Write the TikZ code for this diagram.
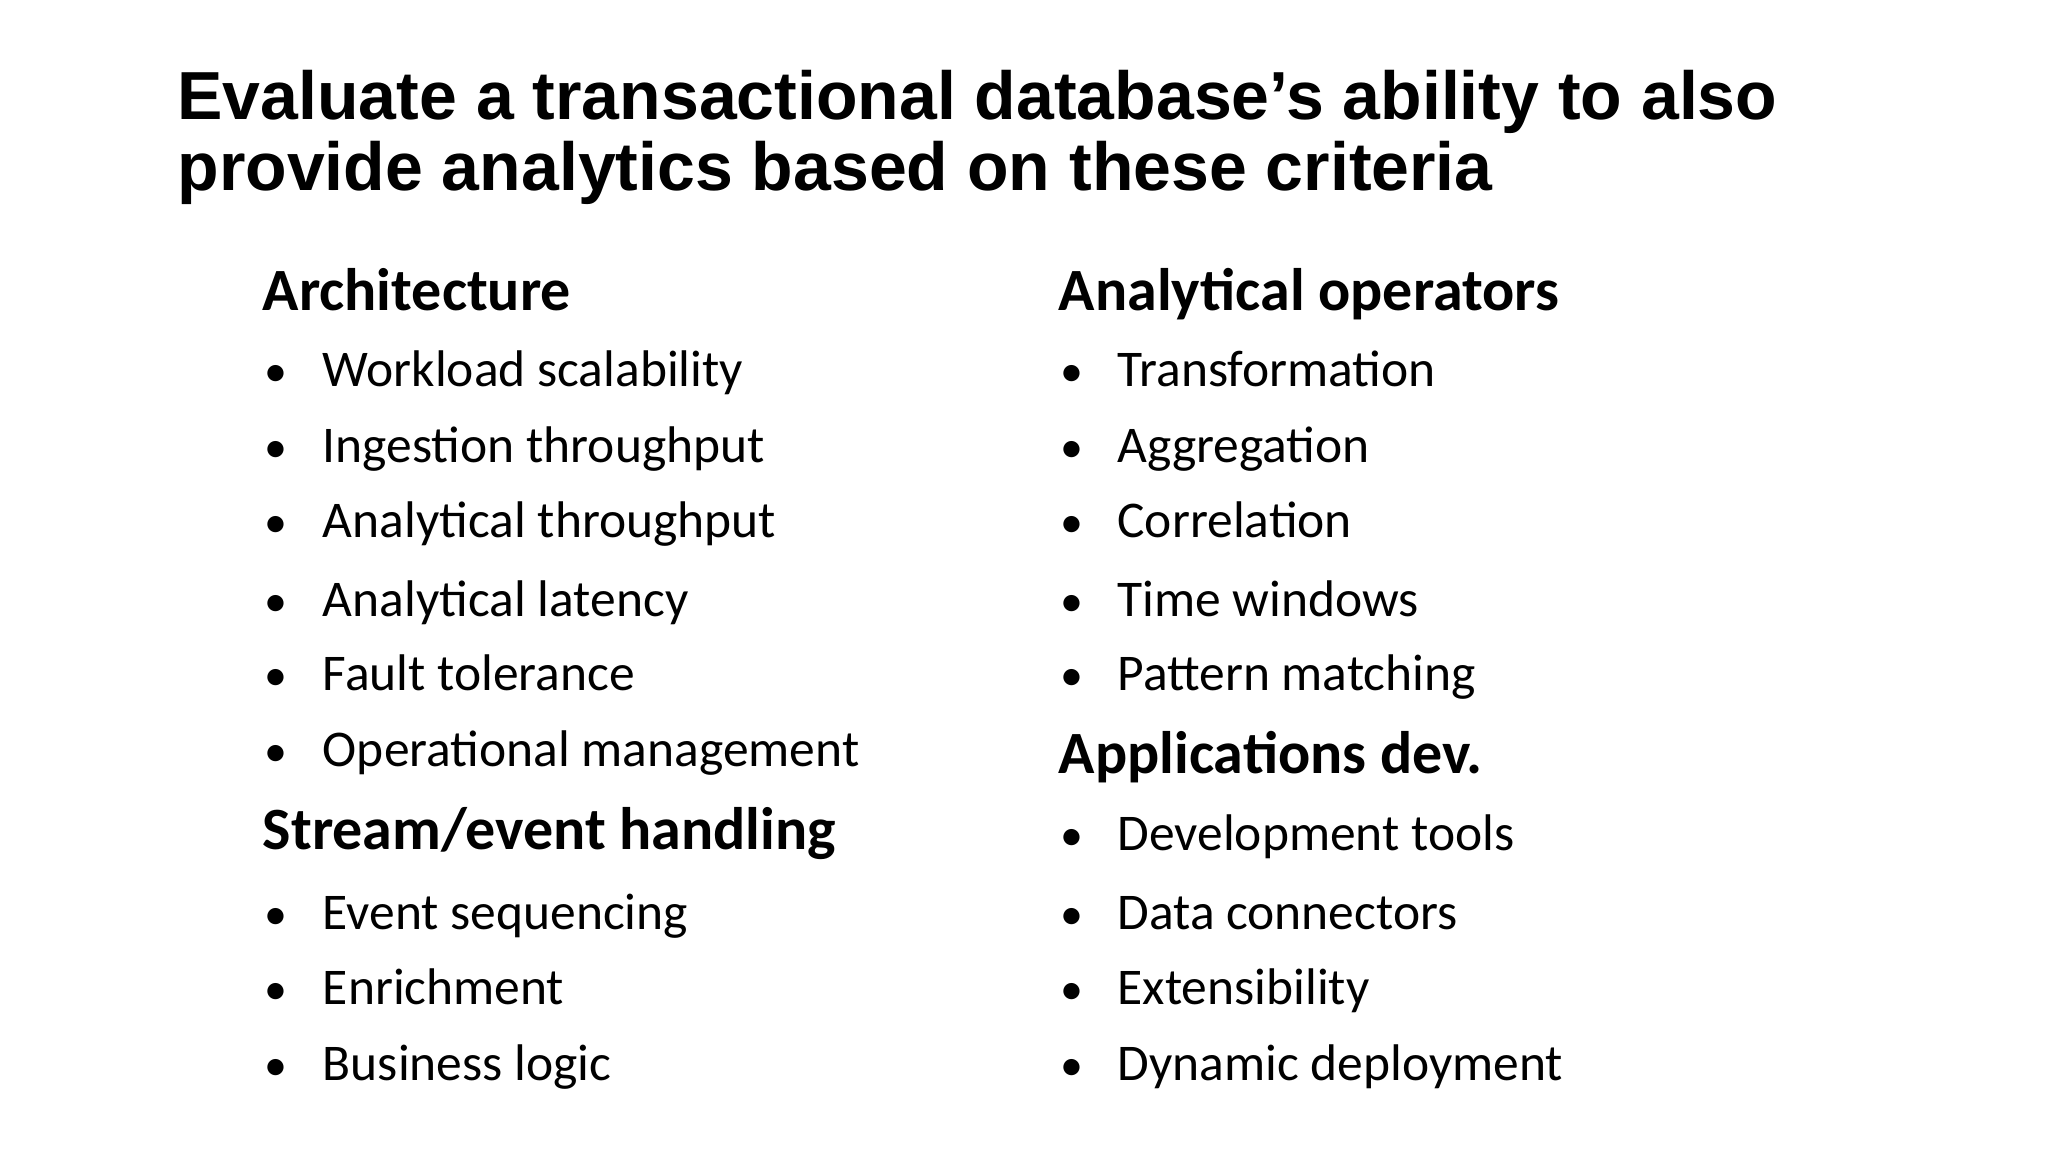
\documentclass[tikz,border=0pt]{standalone}
\usepackage{fontspec}
\setmainfont{Carlito}
\newfontfamily\titlefont{Liberation Sans}
\begin{document}
\begin{tikzpicture}[x=1.33333pt,y=-1.33333pt,
 ttl/.style={anchor=base west,inner sep=0pt,font=\titlefont\bfseries\fontsize{68}{74}\selectfont},
 head/.style={anchor=base west,inner sep=0pt,font=\bfseries\fontsize{60}{66}\selectfont},
 itm/.style={anchor=base west,inner sep=0pt,font=\fontsize{51.5}{58}\selectfont},
 bul/.style={anchor=base west,inner sep=0pt,font=\fontsize{46}{56}\selectfont}]
\useasboundingbox[fill=white] (0,0) rectangle (1536,864);
\node[ttl] (t1) at (133,90) {Evaluate a transactional database’s ability to also};
\node[ttl] (t2) at (133,143) {provide analytics based on these criteria};
\node[head] (h1) at (197,233) {Architecture};
\foreach \y/\t [count=\i] in {290/Workload scalability,347/Ingestion throughput,403/Analytical throughput,462/Analytical latency,518/Fault tolerance,575/Operational management}{
 \node[bul] (lb\i) at (198,\y) {•};
 \node[itm] (li\i) at (242,\y) {\t};}
\node[head] (h2) at (197,637) {Stream/event handling};
\foreach \y/\t [count=\i] in {697/Event sequencing,753/Enrichment,810/Business logic}{
 \node[bul] (sb\i) at (198,\y) {•};
 \node[itm] (si\i) at (242,\y) {\t};}
\node[head] (h3) at (794,233) {Analytical operators};
\foreach \y/\t [count=\i] in {290/Transformation,347/Aggregation,403/Correlation,462/Time windows,518/Pattern matching}{
 \node[bul] (rb\i) at (795,\y) {•};
 \node[itm] (ri\i) at (838,\y) {\t};}
\node[head] (h4) at (794,580) {Applications dev.};
\foreach \y/\t [count=\i] in {638/Development tools,697/Data connectors,753/Extensibility,810/Dynamic deployment}{
 \node[bul] (ab\i) at (795,\y) {•};
 \node[itm] (ai\i) at (838,\y) {\t};}
\end{tikzpicture}
\end{document}
